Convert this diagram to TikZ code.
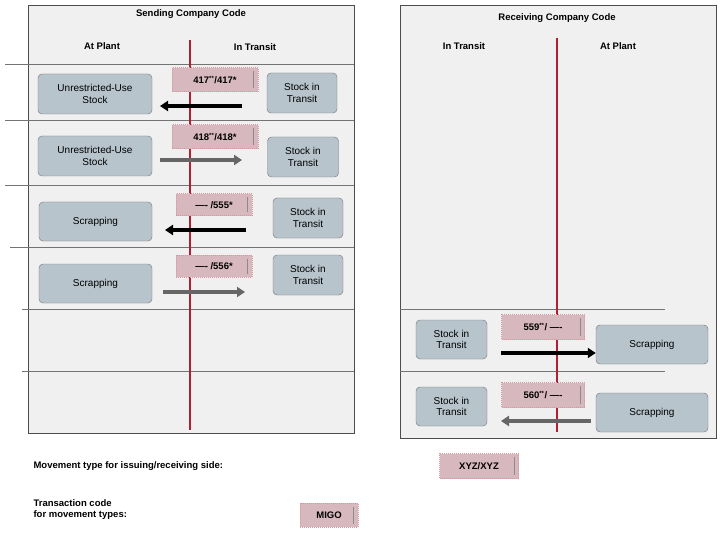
\documentclass[tikz,border=0pt]{standalone}
\usepackage{fontspec}
\setmainfont{Liberation Sans}
\usetikzlibrary{arrows.meta}
\begin{document}
\begin{tikzpicture}[x=1pt,y=-1pt,
  panel/.style={draw=black!70,fill=black!6,line width=0.8pt},
  st/.style={draw=black!55,fill={rgb,255:red,183;green,196;blue,204},rounded corners=4pt,align=center,font=\fontsize{10}{11.5}\selectfont,inner sep=0pt},
  lab/.style={draw={rgb,255:red,215;green,150;blue,160},densely dotted,line width=1pt,fill={rgb,255:red,214;green,184;blue,190},font=\bfseries\fontsize{9.5}{11}\selectfont,inner sep=0pt},
  hl/.style={draw=black!55,line width=0.6pt},
  red/.style={draw={rgb,255:red,180;green,30;blue,50},line width=1.2pt},
  blk/.style={-{Triangle[length=8pt,width=10pt]},line width=4pt,draw=black},
  gry/.style={-{Triangle[length=8pt,width=10pt]},line width=4pt,draw=black!60},
  hd/.style={font=\bfseries\fontsize{9.5}{11}\selectfont}]
\useasboundingbox (0,0) rectangle (720,540);
\fill[white] (0,0) rectangle (720,540);
% panels
\draw[panel] (28,5) rectangle (354,433);
\draw[panel] (400,5) rectangle (716,438);
\node[hd] (t1) at (191,14) {Sending Company Code};
\node[hd] (t2) at (557,18) {Receiving Company Code};
\node[hd] (h1) at (102,46) {At Plant};
\node[hd] (h2) at (255,47) {In Transit};
\node[hd] (h3) at (464,46) {In Transit};
\node[hd] (h4) at (618,46) {At Plant};
% lines
\draw[hl] (5,64) -- (354,64);
\draw[hl] (5,120) -- (354,120);
\draw[hl] (5,185) -- (354,185);
\draw[hl] (10,247) -- (354,247);
\draw[hl] (22,309) -- (354,309);
\draw[hl] (22,371) -- (354,371);
\draw[hl] (400,309) -- (665,309);
\draw[hl] (400,371) -- (665,371);
\draw[red] (190,40) -- (190,430);
\draw[red] (557,38) -- (557,432);
\newcommand{\lbl}[6]{%
 \node[lab,minimum width=#4,minimum height=#5] (#1) at (#2,#3) {#6\hspace{10pt}};
 \draw[black!45,line width=0.8pt] ([xshift=-5pt,yshift=-4pt]#1.north east) -- ([xshift=-5pt,yshift=4pt]#1.south east);}
\newcommand{\mysup}{\textsuperscript{\fontsize{6}{6}\selectfont **}}
% row 1
\node[st,minimum width=114,minimum height=40] (u1) at (95,94) {Unrestricted-Use\\Stock};
\node[st,minimum width=70,minimum height=40] (s1) at (302,93) {Stock in\\Transit};
\lbl{l1}{215}{80}{86}{24}{417\mysup/417*}
\coordinate (a1) at (242,106); \coordinate (b1) at (160,106);
\draw[blk] (a1) -- (b1);
% row 2
\node[st,minimum width=114,minimum height=40] (u2) at (95,156) {Unrestricted-Use\\Stock};
\node[st,minimum width=71,minimum height=40] (s2) at (303,157) {Stock in\\Transit};
\lbl{l2}{215}{137}{86}{24}{418\mysup/418*}
\coordinate (a2) at (160,160); \coordinate (b2) at (242,160);
\draw[gry] (a2) -- (b2);
% row 3
\node[st,minimum width=113,minimum height=39] (c3) at (95.5,221.5) {Scrapping};
\node[st,minimum width=70,minimum height=40] (s3) at (308,218) {Stock in\\Transit};
\lbl{l3}{214}{205}{76}{22}{---- /555*}
\coordinate (a3) at (246,230); \coordinate (b3) at (165,230);
\draw[blk] (a3) -- (b3);
% row 4
\node[st,minimum width=113,minimum height=39] (c4) at (95.5,283.5) {Scrapping};
\node[st,minimum width=70,minimum height=40] (s4) at (308,275) {Stock in\\Transit};
\lbl{l4}{214}{266}{76}{22}{---- /556*}
\coordinate (a4) at (163,292); \coordinate (b4) at (245,292);
\draw[gry] (a4) -- (b4);
% row 5
\node[st,minimum width=71,minimum height=39] (s5) at (451.5,339.5) {Stock in\\Transit};
\node[st,minimum width=112,minimum height=39] (c5) at (652,344.5) {Scrapping};
\lbl{l5}{543}{327}{83}{25}{559\mysup/ ----}
\coordinate (a5) at (501,353);
\draw[blk] (a5) -- (c5.west |- a5);
% row 6
\node[st,minimum width=71,minimum height=39] (s6) at (451.5,406.5) {Stock in\\Transit};
\node[st,minimum width=112,minimum height=39] (c6) at (652,412.5) {Scrapping};
\lbl{l6}{543}{395}{83}{25}{560\mysup/ ----}
\coordinate (a6) at (591,421); \coordinate (b6) at (501,421);
\draw[gry] (a6) -- (b6);
% legend
\node[hd,anchor=west] (m1) at (30,466) {Movement type for issuing/receiving side:};
\lbl{x1}{479}{466}{79}{25}{XYZ/XYZ}
\node[hd,anchor=west,align=left] (m2) at (30,510) {Transaction code\\for movement types:};
\lbl{x2}{329}{515}{58}{24}{MIGO}
\end{tikzpicture}
\end{document}
